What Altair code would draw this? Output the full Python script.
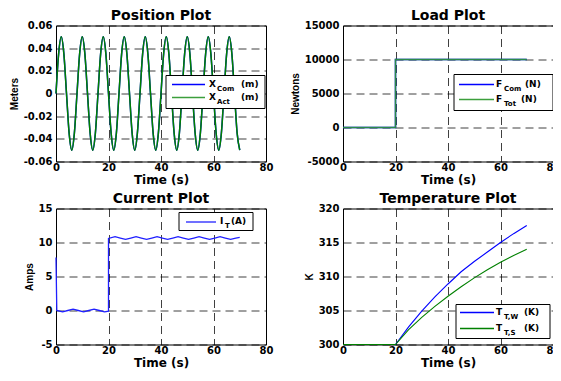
import altair as alt
import pandas as pd

# ---------------- data ----------------
x_ticks = [0, 20, 40, 60, 80]

pos_t = list(range(0, 71))
pos_com = [
    0.0, 0.035, 0.05, 0.035, 0.0, -0.035, -0.05, -0.035,
    0.0, 0.035, 0.05, 0.035, 0.0, -0.035, -0.05, -0.035,
    0.0, 0.035, 0.05, 0.035, 0.0, -0.035, -0.05, -0.035,
    0.0, 0.035, 0.05, 0.035, 0.0, -0.035, -0.05, -0.035,
    0.0, 0.035, 0.05, 0.035, 0.0, -0.035, -0.05, -0.035,
    0.0, 0.035, 0.05, 0.035, 0.0, -0.035, -0.05, -0.035,
    0.0, 0.035, 0.05, 0.035, 0.0, -0.035, -0.05, -0.035,
    0.0, 0.035, 0.05, 0.035, 0.0, -0.035, -0.05, -0.035,
    0.0, 0.035, 0.05, 0.035, 0.0, -0.035, -0.05,
]
pos_act = [
    0.0, 0.035, 0.05, 0.035, 0.0, -0.035, -0.05, -0.035,
    0.0, 0.035, 0.05, 0.035, 0.0, -0.035, -0.05, -0.035,
    0.0, 0.035, 0.05, 0.035, 0.0, -0.035, -0.05, -0.035,
    0.0, 0.035, 0.05, 0.035, 0.0, -0.035, -0.05, -0.035,
    0.0, 0.035, 0.05, 0.035, 0.0, -0.035, -0.05, -0.035,
    0.0, 0.035, 0.05, 0.035, 0.0, -0.035, -0.05, -0.035,
    0.0, 0.035, 0.05, 0.035, 0.0, -0.035, -0.05, -0.035,
    0.0, 0.035, 0.05, 0.035, 0.0, -0.035, -0.05, -0.035,
    0.0, 0.035, 0.05, 0.035, 0.0, -0.035, -0.05,
]

load_t = [0, 20, 20, 70]
load_com = [0, 0, 10000, 10000]
load_tot = [0, 0, 10000, 10000]

cur_t = [0, 0.3, 2.5, 4.5, 6.5, 8.5, 10.5, 12.5, 14.5, 16.5, 18.5, 20,
         20, 22.5, 24.5, 26.5, 28.5, 30.5, 32.5, 34.5, 36.5, 38.5, 40.5,
         42.5, 44.5, 46.5, 48.5, 50.5, 52.5, 54.5, 56.5, 58.5, 60.5, 62.5,
         64.5, 66.5, 68.5, 70]
cur_i = [7.8, 0.0, -0.2, 0.0, 0.2, 0.0, -0.2, 0.0, 0.2, 0.0, -0.2, -0.1,
         10.6,
         10.85, 10.65, 10.45, 10.65,
         10.85, 10.65, 10.45, 10.65,
         10.85, 10.65, 10.45, 10.65,
         10.85, 10.65, 10.45, 10.65,
         10.85, 10.65, 10.45, 10.65,
         10.85, 10.65, 10.45, 10.65,
         10.75]

temp_t = [0, 20, 25, 30, 35, 40, 45, 50, 55, 60, 65, 70]
temp_w = [300, 300, 302.6, 304.9, 307.0, 308.9, 310.7, 312.2, 313.6, 315.0, 316.3, 317.5]
temp_s = [300, 300, 302.2, 304.0, 305.6, 307.1, 308.5, 309.8, 311.0, 312.1, 313.1, 314.0]

pos_yticks = [-0.06, -0.04, -0.02, 0, 0.02, 0.04, 0.06]
load_yticks = [-5000, 0, 5000, 10000, 15000]
cur_yticks = [-5, 0, 5, 10, 15]
temp_yticks = [300, 305, 310, 315, 320]

titles = ["Position Plot", "Load Plot", "Current Plot", "Temperature Plot"]

# ---------------- style ----------------
W, H = 210, 136
BLUE = "#0000ff"
GREEN = "#008000"
LGREEN = "#3c9f3c"
MINUS = "\u2212"


def fix_minus(expr):
    return f"replace({expr}, '{MINUS}', '-')"


def x_enc():
    return alt.X("t:Q", scale=alt.Scale(domain=[0, 80], nice=False, zero=False),
                 axis=alt.Axis(values=x_ticks, title="Time (s)", format="d"))


def y_enc(domain, ticks, title, expr):
    return alt.Y("v:Q", scale=alt.Scale(domain=domain, nice=False, zero=False),
                 axis=alt.Axis(values=ticks, title=title, labelExpr=expr))


def series(t, v, color, width, domain, ticks, title, expr, interp="linear"):
    df = pd.DataFrame({"t": t, "v": v, "k": list(range(len(t)))})
    return alt.Chart(df).mark_line(color=color, strokeWidth=width, interpolate=interp).encode(
        x=x_enc(), y=y_enc(domain, ticks, title, expr), order="k:Q")


one = pd.DataFrame({"a": [0]})


def label(txt, x, y, size, font="DejaVu Sans", align="left", baseline="middle"):
    return alt.Chart(one).mark_text(
        align=align, baseline=baseline, font=font, fontWeight="bold",
        fontSize=size, color="black").encode(
        x=alt.value(x), y=alt.value(y), text=alt.value(txt))


def legend(box, rows):
    x1, y1, x2, y2 = box
    layers = [alt.Chart(one).mark_rect(fill="white", stroke="black", strokeWidth=1).encode(
        x=alt.value(x1), x2=alt.value(x2), y=alt.value(y1), y2=alt.value(y2))]
    for (lx1, lx2, ly, color, main, mx, sub, sx, unit, ux) in rows:
        layers.append(alt.Chart(one).mark_rule(color=color, strokeWidth=1.5).encode(
            x=alt.value(lx1), x2=alt.value(lx2), y=alt.value(ly)))
        layers.append(label(main, mx, ly - 1, 9))
        layers.append(label(sub, sx, ly + 4, 7))
        layers.append(label(unit, ux, ly - 1, 9))
    return layers


def panel(lines, leg, title):
    head = label(title, W / 2, -6, 14, align="center", baseline="alphabetic")
    return alt.layer(*lines, *leg, head).properties(width=W, height=H)


# Position
pos_expr = "datum.value == 0 ? '0' : " + fix_minus("format(datum.value, '.2f')")
p1 = panel(
    [series(pos_t, pos_com, BLUE, 1.5, [-0.06, 0.06], pos_yticks, "Meters", pos_expr, "monotone"),
     series(pos_t, pos_act, GREEN, 1.5, [-0.06, 0.06], pos_yticks, "Meters", pos_expr, "monotone")],
    legend((110, 50, 209, 83), [
        (116, 149, 59, BLUE, "X", 153, "Com", 161, "(m)", 185),
        (116, 149, 72, LGREEN, "X", 153, "Act", 161, "(m)", 185),
    ]),
    titles[0])

# Load
int_expr = fix_minus("format(datum.value, 'd')")
p2 = panel(
    [series(load_t, load_com, BLUE, 1.5, [-5000, 15000], load_yticks, "Newtons", int_expr),
     series(load_t, load_tot, "#2a8a4a", 1.5, [-5000, 15000], load_yticks, "Newtons", int_expr)],
    legend((111, 49, 210, 85), [
        (116, 151, 59, BLUE, "F", 153, "Com", 161, "(N)", 182),
        (116, 151, 74, LGREEN, "F", 153, "Tot", 161, "(N)", 178),
    ]),
    titles[1])

# Current
p3 = panel(
    [series(cur_t, cur_i, "#2020ff", 1.3, [-5, 15], cur_yticks, "Amps", int_expr)],
    legend((123, 4, 197, 22), [
        (130, 160, 13.5, "#4040ff", "I", 164, "T", 169, "(A)", 175),
    ]),
    titles[2])

# Temperature
p4 = panel(
    [series(temp_t, temp_w, BLUE, 1.1, [300, 320], temp_yticks, "K", int_expr),
     series(temp_t, temp_s, GREEN, 1.1, [300, 320], temp_yticks, "K", int_expr)],
    legend((113, 96, 207, 130), [
        (117, 151, 104, BLUE, "T", 153, "T,W", 161, "(K)", 181),
        (117, 151, 120, GREEN, "T", 153, "T,S", 161, "(K)", 181),
    ]),
    titles[3])

chart = alt.concat(p1, p2, p3, p4, columns=2,
                   spacing={"row": 47, "column": 77}, bounds="flush").properties(
    padding={"left": 0, "top": -0.5, "right": -8, "bottom": 0},
    background="white",
).configure_view(
    stroke="black", strokeWidth=1
).configure_axis(
    grid=True, gridColor="black", gridDash=[8, 5], gridOpacity=0.75, gridWidth=1,
    domain=False, ticks=False,
    labelFont="DejaVu Sans", labelFontWeight="bold", labelFontSize=10, labelColor="black",
    titleFontWeight="bold", titleColor="black",
).configure_axisX(
    labelPadding=1, titleFont="DejaVu Sans", titleFontSize=12, titlePadding=2,
    labelFlush=False, labelOverlap=False,
).configure_axisY(
    labelPadding=4, titleFont="Liberation Sans", titleFontSize=10, titlePadding=4,
    labelOverlap=False,
)

chart.save("out.html", embed_options={"renderer": "svg", "actions": False})
